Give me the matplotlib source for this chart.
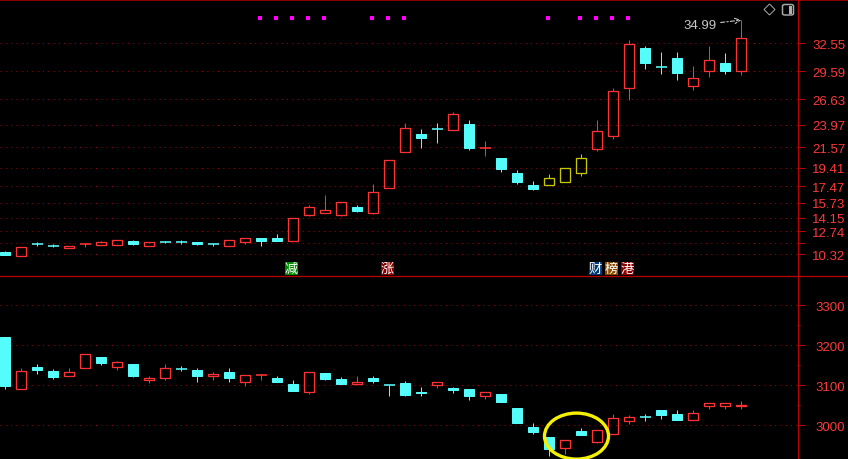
import matplotlib
matplotlib.use('Agg')
import matplotlib.pyplot as plt
import matplotlib.transforms as mtransforms
from matplotlib.patches import Rectangle, Ellipse, Polygon, FancyBboxPatch
from matplotlib.lines import Line2D

plt.rcParams['lines.scale_dashes'] = False

# ---------------- data ----------------
# upper panel: stock daily candles (open, close, high, low)
stock_open = [10.56, 10.17, 11.43, 11.19, 11.00, 11.33, 11.33, 11.33, 11.72, 11.19,
              11.61, 11.72, 11.61, 11.40, 11.19, 11.61, 12.03, 12.03, 11.72, 14.49,
              14.70, 14.49, 15.27, 14.70, 17.33, 21.13, 22.99, 23.52, 23.45, 24.05,
              21.52, 20.46, 18.88, 17.62, 17.65, 17.97, 18.85, 21.44, 22.75, 27.87,
              32.05, 30.02, 31.00, 28.02, 29.66, 30.47, 29.60]
stock_close = [10.24, 11.05, 11.33, 11.09, 11.19, 11.37, 11.61, 11.82, 11.40, 11.58,
               11.51, 11.61, 11.40, 11.33, 11.82, 12.03, 11.72, 11.72, 14.14, 15.27,
               14.98, 15.79, 14.88, 16.85, 20.22, 23.59, 22.60, 23.45, 25.07, 21.52,
               21.58, 19.34, 17.97, 17.23, 18.32, 19.38, 20.43, 23.28, 27.49, 32.44,
               30.51, 29.98, 29.45, 28.86, 30.76, 29.66, 33.08]
stock_high = [10.66, 11.05, 11.61, 11.40, 11.19, 11.54, 11.72, 11.82, 11.82, 11.58,
              11.72, 11.82, 11.61, 11.55, 11.82, 12.03, 12.03, 12.45, 14.14, 15.51,
              16.56, 15.79, 15.48, 17.69, 20.22, 24.15, 23.52, 24.15, 25.28, 24.47,
              22.25, 20.46, 19.17, 18.04, 18.75, 19.38, 20.88, 24.47, 27.84, 32.87,
              32.27, 31.63, 31.63, 30.16, 32.27, 31.53, 34.99]
stock_low = [10.24, 10.17, 11.19, 11.09, 11.00, 11.09, 11.33, 11.33, 11.30, 11.19,
             11.48, 11.40, 11.30, 11.19, 11.19, 11.40, 11.19, 11.72, 11.72, 14.38,
             14.70, 14.38, 14.77, 14.60, 17.33, 21.13, 21.55, 22.04, 23.45, 21.34,
             20.71, 19.02, 17.76, 17.12, 17.65, 17.97, 18.60, 21.23, 22.43, 26.61,
             29.87, 29.31, 28.68, 27.66, 29.03, 29.35, 29.24]
yellow_days = [34, 35, 36]
dot_days = [16, 17, 18, 19, 20, 23, 24, 25, 34, 36, 37, 38, 39]
price_ticks = [32.55, 29.59, 26.63, 23.97, 21.57, 19.41, 17.47, 15.73, 14.15, 12.74, 11.47, 10.32]
price_labels = ['32.55', '29.59', '26.63', '23.97', '21.57', '19.41', '17.47', '15.73',
                '14.15', '12.74', '', '10.32']
max_price = 34.99
max_day = 46
tag_days = [18, 24, 37, 38, 39]
tag_texts = ['减', '涨', '财', '榜', '港']
tag_colors = ['#008a00', '#8a0000', '#003a78', '#8a4a00', '#8a0000']

# lower panel: index candles
idx_open = [3220.8, 3091.5, 3146.0, 3135.8, 3123.0, 3143.3, 3170.8, 3145.8, 3153.3, 3113.0,
            3118.3, 3140.5, 3138.3, 3123.3, 3133.3, 3109.0, 3125.0, 3118.3, 3103.3, 3084.3,
            3130.8, 3115.8, 3103.3, 3118.3, 3100.5, 3105.8, 3083.3, 3101.5, 3093.3, 3090.8,
            3074.0, 3078.3, 3043.3, 2995.8, 2970.8, 2944.0, 2985.0, 2959.0, 2977.5, 3010.0,
            3021.5, 3037.5, 3027.5, 3012.5, 3047.5, 3047.5, 3049.0]
idx_close = [3098.3, 3135.8, 3138.0, 3120.8, 3133.0, 3178.3, 3155.8, 3158.3, 3123.3, 3118.0,
             3143.3, 3139.5, 3123.3, 3128.0, 3118.3, 3125.8, 3126.0, 3108.3, 3085.8, 3133.3,
             3115.8, 3103.3, 3108.3, 3110.8, 3099.5, 3075.8, 3081.0, 3107.5, 3089.0, 3073.3,
             3082.5, 3058.3, 3005.8, 2983.3, 2940.8, 2962.5, 2975.0, 2987.5, 3017.5, 3020.8,
             3020.5, 3025.0, 3012.5, 3030.0, 3056.5, 3056.5, 3051.0]
idx_high = [3220.8, 3143.3, 3153.0, 3140.8, 3143.0, 3178.3, 3170.8, 3160.8, 3153.3, 3123.0,
            3153.0, 3148.0, 3143.3, 3133.0, 3143.3, 3125.8, 3128.0, 3123.3, 3113.3, 3133.3,
            3130.8, 3120.8, 3123.3, 3123.3, 3100.5, 3110.8, 3095.8, 3107.5, 3095.8, 3090.8,
            3082.5, 3078.3, 3043.3, 3005.8, 2970.8, 2962.5, 2992.5, 2987.5, 3027.5, 3025.8,
            3027.5, 3037.5, 3037.5, 3037.5, 3056.5, 3056.5, 3060.0]
idx_low = [3090.8, 3091.5, 3128.0, 3115.8, 3123.0, 3143.3, 3150.8, 3138.0, 3120.8, 3105.8,
           3113.0, 3135.8, 3108.3, 3113.0, 3108.3, 3098.3, 3113.0, 3108.3, 3085.8, 3079.0,
           3113.3, 3103.3, 3103.3, 3105.8, 3074.0, 3073.3, 3073.3, 3093.3, 3080.8, 3063.3,
           3065.8, 3058.3, 3005.8, 2978.3, 2924.0, 2929.0, 2975.0, 2956.5, 2977.5, 3002.5,
           3010.0, 3015.0, 3012.5, 3012.5, 3040.0, 3040.0, 3040.0]
idx_major = [3000, 3100, 3200, 3300]
idx_minor = [3050, 3150, 3250]
circle_center_day = 35.7
circle_center_val = 2973
circle_days_wide = 4.0
circle_val_high = 115

# ---------------- style ----------------
W, H, DPI = 848, 460, 100
RED = '#ff3333'
CYAN = '#54fcfc'
YEL = '#c8c800'
GRID = '#a00000'
FRAME = '#b80000'
LBL = '#ff3838'
PX = 0.72  # 1 px in points
NUM_FONT = ['Liberation Sans', 'DejaVu Sans']
CJK_FONT = ['Noto Sans CJK SC', 'DejaVu Sans']

fig = plt.figure(figsize=(W / DPI, H / DPI), dpi=DPI, facecolor='black')

SEP, RX, TOP = 277, 797, 1


def fx(px):
    return px / W


def fy(py):
    return 1 - py / H


ax1 = fig.add_axes([0, fy(SEP), fx(RX), fy(TOP) - fy(SEP)])
ax2 = fig.add_axes([0, 0, fx(RX), fy(SEP)])

for ax in (ax1, ax2):
    ax.set_facecolor('black')
    for s in ax.spines.values():
        s.set_visible(False)
    ax.set_xlim(-5.3 / 16, (RX - 5.3) / 16)
    ax.xaxis.set_visible(False)
    ax.yaxis.tick_right()

ax1.set_ylim(8.03, 37.11)
ax2.set_ylim(2915.75, 3373.25)


def candles(ax, o, c, h, l, yellow=()):
    bw = 0.625
    for i in range(len(o)):
        up = c[i] >= o[i]
        col = YEL if i in yellow else (RED if up else CYAN)
        top, bot = max(o[i], c[i]), min(o[i], c[i])
        span = ax.get_ylim()[1] - ax.get_ylim()[0]
        doji = (top - bot) < span * 0.004
        if doji:
            ax.vlines(i, l[i], h[i], color=col, lw=PX, zorder=3)
            ax.hlines((top + bot) / 2, i - bw / 2 - 0.03, i + bw / 2 + 0.03, color=col,
                      lw=PX * 1.6, zorder=3)
            continue
        if up:
            if h[i] > top:
                ax.vlines(i, top, h[i], color=col, lw=PX, zorder=3)
            if l[i] < bot:
                ax.vlines(i, l[i], bot, color=col, lw=PX, zorder=3)
            ax.add_patch(Rectangle((i - bw / 2, bot), bw, top - bot, facecolor='none',
                                   edgecolor=col, lw=PX * 1.3, zorder=4))
        else:
            ax.vlines(i, l[i], h[i], color=col, lw=PX, zorder=3)
            ax.add_patch(Rectangle((i - bw / 2, bot), bw, top - bot, facecolor=col,
                                   edgecolor=col, lw=PX, zorder=4))


candles(ax1, stock_open, stock_close, stock_high, stock_low, yellow_days)
candles(ax2, idx_open, idx_close, idx_high, idx_low)

# grids
for v in price_ticks:
    ax1.axhline(v, color=GRID, lw=PX, linestyle=(0, (0.72, 3.1)), zorder=1)
for v in idx_major:
    ax2.axhline(v, color=GRID, lw=PX, linestyle=(0, (0.72, 3.1)), zorder=1)

# ticks
ax1.set_yticks(price_ticks)
ax1.set_yticklabels(price_labels)
ax2.set_yticks(idx_major)
ax2.set_yticklabels([str(v) for v in idx_major])
ax2.set_yticks(idx_minor, minor=True)
for ax in (ax1, ax2):
    ax.tick_params(axis='y', which='major', direction='out', length=5.8, width=PX,
                   color=FRAME, labelcolor=LBL, pad=5, labelsize=9.5)
    ax.tick_params(axis='y', which='minor', direction='out', length=2.5, width=PX,
                   color=FRAME)
    for t in ax.get_yticklabels():
        t.set_family(NUM_FONT)
ax1.tick_params(axis='y', pad=5)
ax2.tick_params(axis='y', pad=7.5)

# magenta signal dots
trans1 = mtransforms.blended_transform_factory(ax1.transData, ax1.transAxes)
ax1.scatter([d - 0.1 for d in dot_days], [1 - 18.3 / (SEP - TOP)] * len(dot_days),
            marker='s', s=7, color='#ff00ff', linewidths=0, transform=trans1, zorder=5)

# tags
for d, t, c in zip(tag_days, tag_texts, tag_colors):
    x0 = d - 0.12 - 0.4
    y0 = (SEP - 276) / (SEP - TOP)
    hh = 13 / (SEP - TOP)
    ax1.add_patch(Rectangle((x0, y0), 0.8, hh, facecolor=c, edgecolor='none',
                            transform=trans1, zorder=6, clip_on=False))
    ax1.text(d - 0.12, y0 + hh / 2, t, color='white', fontsize=9.5, family=CJK_FONT,
             ha='center', va='center', transform=trans1, zorder=7)

# max annotation
ax1.annotate(f'{max_price:.2f}', xy=(max_day, max_price),
             xytext=(max_day - 1.55, max_price - 0.5), ha='right', va='center',
             color='#c8c8c8', fontsize=9.5, family=NUM_FONT,
             arrowprops=dict(arrowstyle='->', color='#c8c8c8', lw=0.8,
                             linestyle=(0, (3, 1.5, 1, 1.5)), shrinkA=1, shrinkB=0))

# circle
ax2.add_patch(Ellipse((circle_center_day, circle_center_val), circle_days_wide, circle_val_high,
                      facecolor='none', edgecolor='#f4f000', lw=2.4, zorder=8, clip_on=False))

# frame lines
fig.add_artist(Line2D([0, 1], [fy(0.5), fy(0.5)], color=FRAME, lw=PX * 1.5))
fig.add_artist(Line2D([0, 1], [fy(SEP), fy(SEP)], color=FRAME, lw=PX * 1.3))
fig.add_artist(Line2D([fx(RX + 0.5), fx(RX + 0.5)], [0, 1], color=FRAME, lw=PX * 1.3))

# toolbar icons
cx, cy, r = 769.5, 10.5, 5.5
fig.add_artist(Polygon([(fx(cx), fy(cy - r)), (fx(cx + r), fy(cy)), (fx(cx), fy(cy + r)),
                        (fx(cx - r), fy(cy))], closed=True, facecolor='none',
                       edgecolor='#a8a8a8', lw=PX, transform=fig.transFigure))
fig.add_artist(FancyBboxPatch((fx(782.5), fy(16)), fx(11), 10.5 / H,
                              boxstyle='round,pad=0,rounding_size=0.003', facecolor='none',
                              edgecolor='#a8a8a8', lw=PX * 1.5, transform=fig.transFigure))
fig.add_artist(Rectangle((fx(788.5), fy(14.5)), fx(3), 7.5 / H, facecolor='#b0b0b0',
                         edgecolor='none', transform=fig.transFigure))

fig.savefig('out.png', dpi=DPI, facecolor='black')
